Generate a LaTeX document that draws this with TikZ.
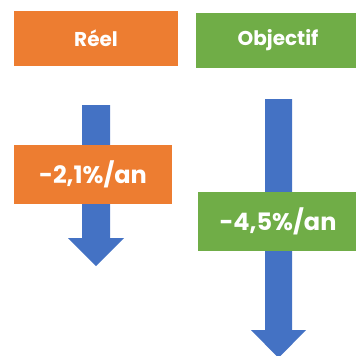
\documentclass[tikz,border=0pt]{standalone}
\usepackage{fontspec}
\setmainfont{Poppins}
\definecolor{orangebox}{HTML}{ED7D31}
\definecolor{greenbox}{HTML}{70AD47}
\definecolor{bluearrow}{HTML}{4472C4}
\begin{document}
\begin{tikzpicture}[x=1pt,y=-1pt,
		box/.style={inner sep=0pt,text=white,font=\bfseries\fontsize{20}{24}\selectfont},
		ratebox/.style={box,font=\bfseries\fontsize{24}{28}\selectfont},
		blockarrow/.style={fill=bluearrow,draw=none}]
		\useasboundingbox (0,0) rectangle (356,356);
		\clip (0,0) rectangle (356,356);
		% arrows first, the boxes sit on top of them
		\fill [blockarrow] (82,105) -- (110,105) -- (110,238) -- (124,238) -- (96,266) -- (68,238) -- (82,238) -- cycle;
		\fill [blockarrow] (265,99) -- (292,99) -- (292,330) -- (306,330) -- (278.5,358) -- (251,330) -- (265,330) -- cycle;
		% headers
		\node [box,fill=orangebox,minimum width=164,minimum height=55] (reel) at (96,38.5) {Réel};
		\node [box,fill=greenbox,minimum width=164,minimum height=55] (objectif) at (278,40.5) {Objectif};
		% yearly rates
		\node [ratebox,fill=orangebox,minimum width=158,minimum height=59] (tauxreel) at (93,174.5) {-2,1\%/an};
		\node [ratebox,fill=greenbox,minimum width=160,minimum height=59] (tauxobj) at (278,221.5) {-4,5\%/an};
	\end{tikzpicture}
\end{document}
